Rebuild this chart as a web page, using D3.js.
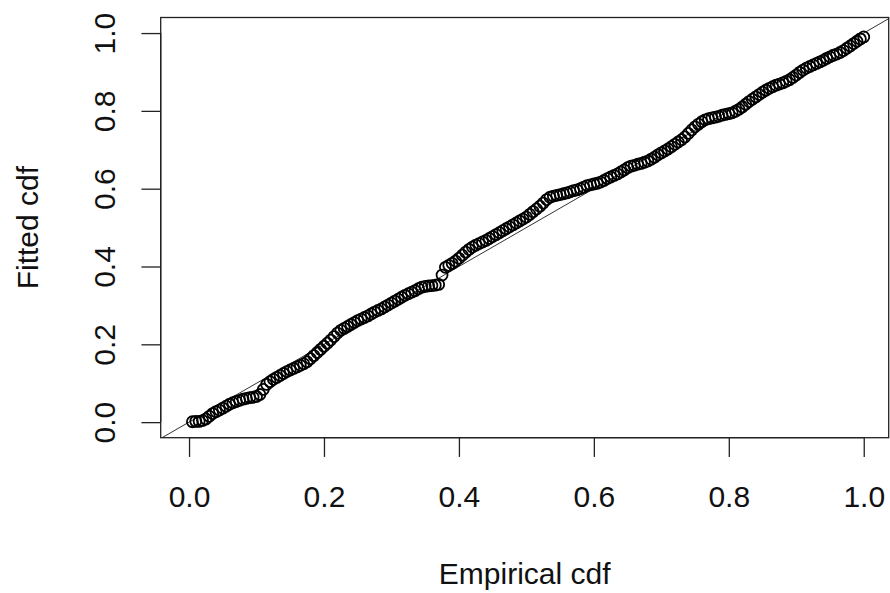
<!DOCTYPE html>
<html>
<head>
<meta charset="utf-8">
<script src="https://cdn.jsdelivr.net/npm/d3@7"></script>
<style>
  html, body { margin: 0; padding: 0; background: #ffffff; }
  svg { display: block; }
  text { font-family: "Liberation Sans", Arial, sans-serif; fill: #111; }
</style>
</head>
<body>
<svg id="chart" width="890" height="593"></svg>
<script>
// Fitted cdf value at each sorted observation (ascending order)
const fittedCdf = [
  0.001, 0.002, 0.002, 0.004, 0.008, 0.015, 0.022, 0.027, 0.031, 0.036,
  0.041, 0.046, 0.050, 0.053, 0.056, 0.059, 0.061, 0.063, 0.064, 0.066,
  0.071, 0.084, 0.097, 0.104, 0.110, 0.115, 0.120, 0.125, 0.130, 0.134,
  0.138, 0.142, 0.146, 0.150, 0.155, 0.163, 0.171, 0.179, 0.187, 0.195,
  0.203, 0.211, 0.220, 0.229, 0.236, 0.241, 0.246, 0.251, 0.256, 0.261,
  0.265, 0.269, 0.273, 0.278, 0.283, 0.287, 0.291, 0.296, 0.301, 0.306,
  0.311, 0.316, 0.321, 0.326, 0.330, 0.334, 0.338, 0.343, 0.347, 0.349,
  0.350, 0.351, 0.352, 0.354, 0.378, 0.398, 0.403, 0.408, 0.414, 0.421,
  0.429, 0.437, 0.444, 0.450, 0.455, 0.459, 0.463, 0.467, 0.472, 0.477,
  0.482, 0.487, 0.492, 0.497, 0.502, 0.507, 0.512, 0.517, 0.522, 0.527,
  0.534, 0.541, 0.548, 0.555, 0.563, 0.572, 0.578, 0.581, 0.583, 0.585,
  0.587, 0.589, 0.592, 0.595, 0.597, 0.600, 0.604, 0.608, 0.610, 0.612,
  0.614, 0.617, 0.621, 0.626, 0.630, 0.634, 0.638, 0.643, 0.648, 0.654,
  0.658, 0.660, 0.663, 0.665, 0.668, 0.671, 0.676, 0.681, 0.687, 0.692,
  0.697, 0.702, 0.708, 0.714, 0.720, 0.726, 0.733, 0.742, 0.751, 0.759,
  0.766, 0.772, 0.777, 0.780, 0.782, 0.784, 0.786, 0.789, 0.791, 0.793,
  0.795, 0.799, 0.804, 0.810, 0.817, 0.824, 0.830, 0.836, 0.842, 0.848,
  0.853, 0.858, 0.862, 0.866, 0.869, 0.872, 0.876, 0.880, 0.886, 0.892,
  0.899, 0.905, 0.910, 0.914, 0.918, 0.922, 0.926, 0.930, 0.935, 0.939,
  0.943, 0.946, 0.950, 0.955, 0.961, 0.967, 0.973, 0.979, 0.985, 0.990
];

const xTicks = [0, 0.2, 0.4, 0.6, 0.8, 1.0];
const yTicks = [0, 0.2, 0.4, 0.6, 0.8, 1.0];
const xTitle = "Empirical cdf";
const yTitle = "Fitted cdf";

// Empirical cdf of the sorted sample: rank / n
const n = fittedCdf.length;
const points = fittedCdf.map((f, i) => ({ emp: (i + 1) / n, fit: f }));

const svg = d3.select("#chart");
const box = { left: 160.7, right: 888.7, top: 17.5, bottom: 437.7 };
const lineH = 38.5;
const fontPx = 30;

const x = d3.scaleLinear().domain([-0.042, 1.037]).range([box.left, box.right]);
const y = d3.scaleLinear().domain([-0.04, 1.04]).range([box.bottom, box.top]);

svg.append("defs").append("clipPath").attr("id", "plotClip")
  .append("rect")
  .attr("x", box.left).attr("y", box.top)
  .attr("width", box.right - box.left).attr("height", box.bottom - box.top);

const plot = svg.append("g").attr("clip-path", "url(#plotClip)");

// reference line y = x
plot.append("line")
  .attr("x1", x(-0.1)).attr("y1", y(-0.1))
  .attr("x2", x(1.1)).attr("y2", y(1.1))
  .attr("stroke", "#333").attr("stroke-width", 1);

// open circles
plot.selectAll("circle.pt").data(points).enter().append("circle")
  .attr("class", "pt")
  .attr("cx", d => x(d.emp))
  .attr("cy", d => y(d.fit))
  .attr("r", 5.5)
  .attr("fill", "none")
  .attr("stroke", "#000")
  .attr("stroke-width", 1.8);

// frame
svg.append("rect")
  .attr("x", box.left).attr("y", box.top)
  .attr("width", box.right - box.left).attr("height", box.bottom - box.top)
  .attr("fill", "none").attr("stroke", "#222").attr("stroke-width", 1.3);

// bottom axis
const xAxis = d3.axisBottom(x).tickValues(xTicks).tickSize(lineH * 0.5)
  .tickFormat(d3.format(".1f"));
const gx = svg.append("g").attr("transform", `translate(0,${box.bottom})`).call(xAxis);
gx.select(".domain")
  .attr("d", `M${x(xTicks[0])},0H${x(xTicks[xTicks.length - 1])}`)
  .attr("stroke", "#222").attr("stroke-width", 1.3);
gx.selectAll(".tick line").attr("stroke", "#222").attr("stroke-width", 1.3);
gx.selectAll(".tick text")
  .attr("y", lineH * 1.8).attr("dy", null)
  .attr("font-size", fontPx).attr("font-family", "Liberation Sans, Arial, sans-serif")
  .attr("fill", "#111");

// left axis (labels rotated, reading upwards)
const yAxis = d3.axisLeft(y).tickValues(yTicks).tickSize(lineH * 0.5)
  .tickFormat(d3.format(".1f"));
const gy = svg.append("g").attr("transform", `translate(${box.left},0)`).call(yAxis);
gy.select(".domain")
  .attr("d", `M0,${y(yTicks[0])}V${y(yTicks[yTicks.length - 1])}`)
  .attr("stroke", "#222").attr("stroke-width", 1.3);
gy.selectAll(".tick line").attr("stroke", "#222").attr("stroke-width", 1.3);
gy.selectAll(".tick text")
  .attr("x", null).attr("dy", null)
  .attr("transform", `translate(${-lineH * 1.2},0) rotate(-90)`)
  .attr("text-anchor", "middle")
  .attr("font-size", fontPx).attr("font-family", "Liberation Sans, Arial, sans-serif")
  .attr("fill", "#111");

// axis titles
const cx = (box.left + box.right) / 2;
const cy = (box.top + box.bottom) / 2;
svg.append("text")
  .attr("x", cx).attr("y", box.bottom + lineH * 3.8)
  .attr("text-anchor", "middle").attr("font-size", fontPx)
  .text(xTitle);
svg.append("text")
  .attr("transform", `translate(${box.left - lineH * 3.2},${cy}) rotate(-90)`)
  .attr("text-anchor", "middle").attr("font-size", fontPx)
  .text(yTitle);
</script>
</body>
</html>
